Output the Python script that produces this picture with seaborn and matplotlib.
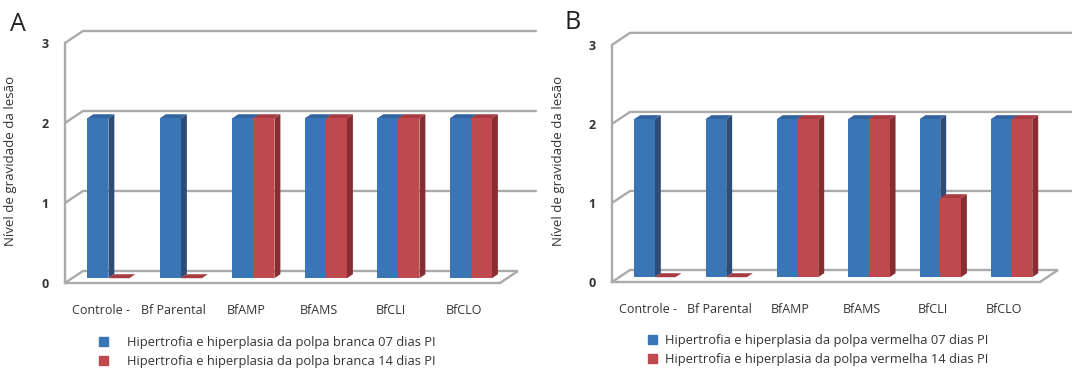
import numpy as np
import pandas as pd
import matplotlib
matplotlib.use('Agg')
import matplotlib.pyplot as plt
import matplotlib.transforms as mtransforms
from matplotlib.patches import Polygon, Patch
import seaborn as sns

# dados
categorias = ['Controle -', 'Bf Parental', 'BfAMP', 'BfAMS', 'BfCLI', 'BfCLO']
branca_07 = [2, 2, 2, 2, 2, 2]
branca_14 = [0, 0, 2, 2, 2, 2]
vermelha_07 = [2, 2, 2, 2, 2, 2]
vermelha_14 = [0, 0, 2, 2, 1, 2]
series_a = ['Hipertrofia e hiperplasia da polpa branca 07 dias PI',
            'Hipertrofia e hiperplasia da polpa branca 14 dias PI']
series_b = ['Hipertrofia e hiperplasia da polpa vermelha 07 dias PI',
            'Hipertrofia e hiperplasia da polpa vermelha 14 dias PI']
niveis = [0, 1, 2, 3]

AZUL = '#3A76B6'
AZUL_LADO = '#2E4C78'
AZUL_TOPO = '#3464A0'
VERMELHO = '#BE4A50'
VERMELHO_LADO = '#892D33'
VERMELHO_TOPO = '#A63C42'
GRADE = '#AAAAAA'
TEXTO = '#333333'

PROF = (18, 12)        # deslocamento da parede do fundo em pixels
BAR_D0, BAR_D1 = 0.4, 0.73
DPI = 100

sns.set_style('white')
plt.rcParams['font.family'] = ['Open Sans', 'DejaVu Sans']
plt.rcParams['text.color'] = TEXTO

fig = plt.figure(figsize=(10.72, 3.74), dpi=DPI)


def ponto(ax, x, y, d=0.0):
    px, py = ax.transData.transform((x, y))
    px += d * PROF[0]
    py += d * PROF[1]
    return fig.transFigure.inverted().transform((px, py))


def linha(ax, pts):
    pts = np.array(pts)
    ax.plot(pts[:, 0], pts[:, 1], color=GRADE, lw=1.7, transform=fig.transFigure,
            clip_on=False, zorder=1, solid_capstyle='butt')


def painel(rect, v07, v14, nomes, letra, pos_letra, fim_grade, pos_leg, pad_leg):
    ax = fig.add_axes(rect)
    df = pd.DataFrame({'Grupo': categorias * 2,
                       'Nivel': v07 + v14,
                       'Serie': [nomes[0]] * len(categorias) + [nomes[1]] * len(categorias)})
    sns.barplot(data=df, x='Grupo', y='Nivel', hue='Serie', palette=[AZUL, VERMELHO],
                width=0.58, saturation=1, linewidth=0, errorbar=None, legend=False, ax=ax)
    ax.set_xlim(-0.5, 5.5)
    ax.set_ylim(0, 3)
    ax.set_yticks(niveis)
    for s in ['top', 'right']:
        ax.spines[s].set_visible(False)
    for s in ['left', 'bottom']:
        ax.spines[s].set_color(GRADE)
        ax.spines[s].set_linewidth(1.7)
    ax.set_xticks(np.arange(len(categorias)) + 0.5, minor=True)
    ax.tick_params(axis='x', which='major', length=0, pad=15, labelsize=9, labelcolor=TEXTO)
    ax.tick_params(axis='x', which='minor', length=3, width=1.2, color=GRADE, direction='out')
    ax.tick_params(axis='y', length=3, width=1.2, color=GRADE, pad=9, labelsize=9,
                   labelcolor=TEXTO)
    for t in ax.get_yticklabels():
        t.set_fontweight('bold')
    ax.set_xlabel('')
    ax.set_ylabel('Nível de gravidade da lesão', fontsize=9.5, color=TEXTO)
    ax.yaxis.set_label_coords(-0.11, 0.51)

    # paredes em perspectiva
    for k in niveis:
        fim = 5.5 if k == 0 else fim_grade
        linha(ax, [ponto(ax, -0.5, k, 0), ponto(ax, -0.5, k, 1), ponto(ax, fim, k, 1)])
    linha(ax, [ponto(ax, 5.5, 0, 0), ponto(ax, 5.5, 0, 1)])

    # barras com profundidade
    n = len(categorias)
    desloc = mtransforms.ScaledTranslation(BAR_D0 * PROF[0] / DPI, BAR_D0 * PROF[1] / DPI,
                                           fig.dpi_scale_trans)
    for j, p in enumerate(ax.patches[:2 * n]):
        serie, i = divmod(j, n)
        x0, w, h = p.get_x(), p.get_width(), p.get_height()
        z = 3 + i * 0.1 + serie * 0.05
        lado, topo = (AZUL_LADO, AZUL_TOPO) if serie == 0 else (VERMELHO_LADO, VERMELHO_TOPO)
        face_lado = [ponto(ax, x0 + w, 0, BAR_D0), ponto(ax, x0 + w, 0, BAR_D1),
                     ponto(ax, x0 + w, h, BAR_D1), ponto(ax, x0 + w, h, BAR_D0)]
        face_topo = [ponto(ax, x0, h, BAR_D0), ponto(ax, x0, h, BAR_D1),
                     ponto(ax, x0 + w, h, BAR_D1), ponto(ax, x0 + w, h, BAR_D0)]
        ax.add_patch(Polygon(face_lado, closed=True, fc=lado, ec='none',
                             transform=fig.transFigure, clip_on=False, zorder=z - 0.01))
        ax.add_patch(Polygon(face_topo, closed=True, fc=topo, ec='none',
                             transform=fig.transFigure, clip_on=False, zorder=z - 0.01))
        p.set_transform(ax.transData + desloc)
        p.set_clip_on(False)
        p.set_zorder(z)

    handles = [Patch(color=AZUL, label=nomes[0]), Patch(color=VERMELHO, label=nomes[1])]
    ax.legend(handles=handles, loc='upper left', bbox_to_anchor=pos_leg,
              bbox_transform=fig.transFigure, frameon=False, fontsize=9.3,
              handlelength=0.7, handleheight=0.7, handletextpad=pad_leg,
              labelspacing=0.45, borderaxespad=0, borderpad=0)
    fig.text(pos_letra[0], pos_letra[1], letra, fontsize=18, color='#222222',
             ha='left', va='center')
    return ax


painel([0.0606, 0.2433, 0.4058, 0.6417], branca_07, branca_14, series_a, 'A',
       (0.009, 0.935), 5.76, (0.0923, 0.101), 1.5)
painel([0.5709, 0.246, 0.3993, 0.634], vermelha_07, vermelha_14, series_b, 'B',
       (0.527, 0.94), 8.0, (0.6045, 0.106), 0.6)

fig.savefig('out.png', dpi=DPI)
